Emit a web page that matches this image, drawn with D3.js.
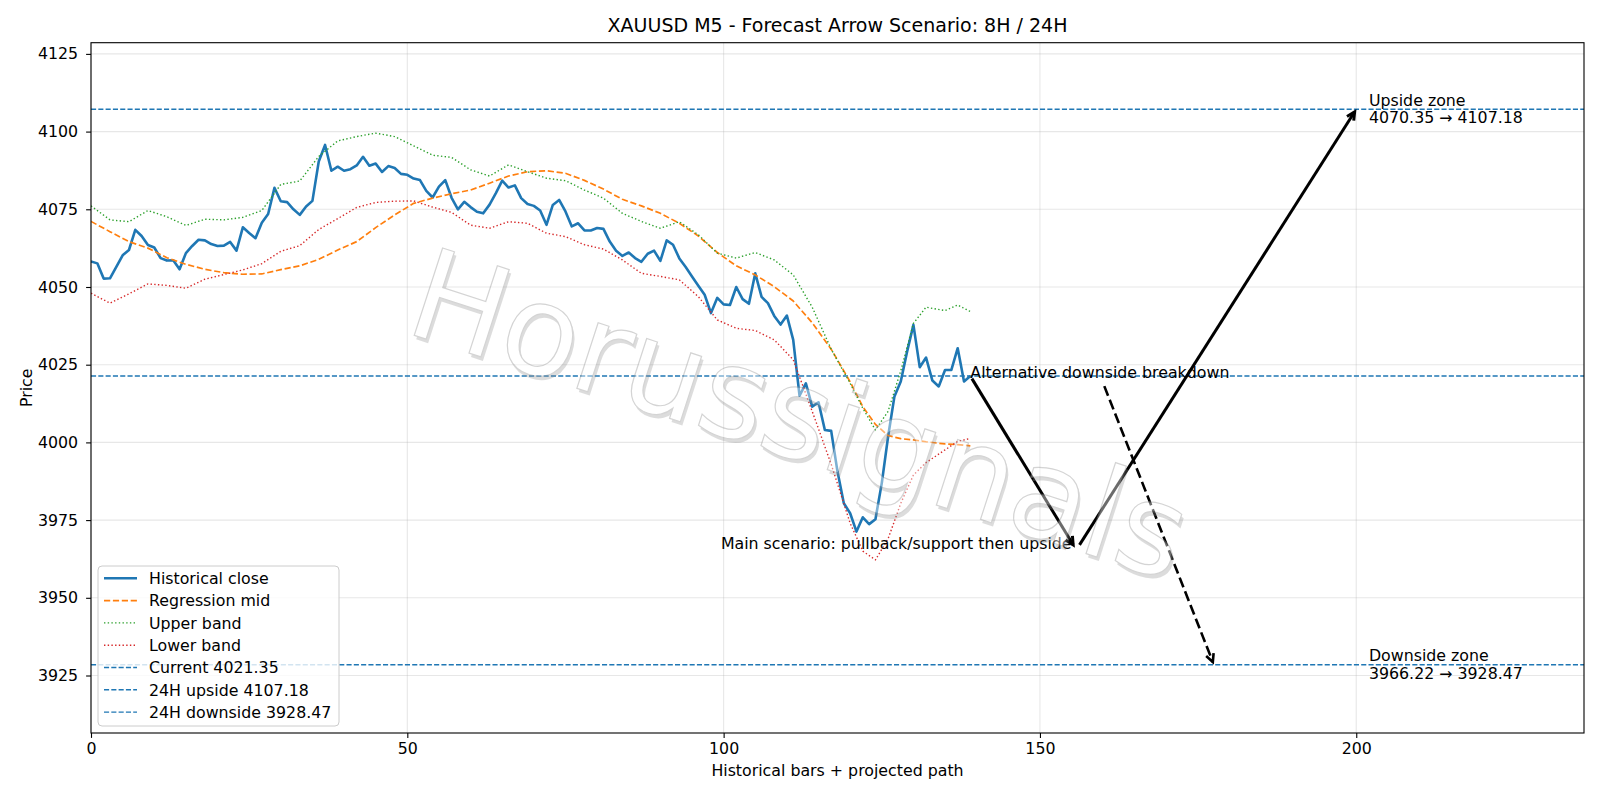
<!DOCTYPE html>
<html>
<head>
<meta charset="utf-8">
<script src="https://cdn.jsdelivr.net/npm/d3@7"></script>
<style>
  body { margin: 0; background: #fff; }
  text { font-family: "DejaVu Sans", sans-serif; fill: #000; }
</style>
</head>
<body>
<div id="chart"></div>
<script>
// historical close, one value per bar (index = bar number)
const closeVals = [
  4058.2, 4057.6, 4052.7, 4052.8, 4056.5, 4060.2, 4061.9, 4068.4, 4066.4, 4063.5,
  4062.7, 4059.3, 4058.5, 4058.6, 4055.7, 4060.9, 4063.2, 4065.2, 4065.0, 4063.8,
  4063.2, 4063.3, 4064.5, 4061.7, 4069.2, 4067.4, 4065.7, 4070.7, 4073.5, 4081.9,
  4077.6, 4077.3, 4075.0, 4073.2, 4075.9, 4077.7, 4090.4, 4095.7, 4087.4, 4088.7,
  4087.4, 4087.9, 4089.1, 4091.9, 4089.0, 4089.7, 4087.0, 4088.9, 4088.3, 4086.4,
  4086.1, 4084.9, 4084.4, 4080.9, 4078.8, 4082.3, 4084.4, 4078.7, 4075.0, 4077.4,
  4075.7, 4074.2, 4073.7, 4076.5, 4080.2, 4084.2, 4082.0, 4082.7, 4078.6, 4076.7,
  4076.1, 4074.6, 4070.0, 4076.4, 4078.0, 4074.3, 4069.5, 4070.5, 4068.2, 4068.2,
  4069.0, 4068.7, 4064.6, 4061.7, 4060.0, 4061.1, 4059.3, 4058.1, 4060.7, 4061.7,
  4058.4, 4065.0, 4063.6, 4059.2, 4056.4, 4053.4, 4050.4, 4047.5, 4041.6, 4046.5,
  4044.4, 4044.2, 4050.0, 4046.1, 4044.6, 4054.4, 4046.8, 4044.8, 4040.7, 4037.9,
  4040.8, 4033.0, 4015.0, 4019.0, 4011.5, 4012.9, 4004.0, 4003.7, 3990.6, 3980.4,
  3977.2, 3971.3, 3975.9, 3973.7, 3975.3, 3986.9, 4001.9, 4014.8, 4019.6, 4029.2,
  4037.8, 4024.2, 4027.3, 4019.9, 4018.0, 4023.3, 4023.3, 4030.3, 4019.6, 4021.35
];

// bars at which the smooth curves were read
const bandIdx = [0, 3, 6, 9, 12, 15, 18, 21, 24, 27, 30, 33, 36, 39, 42, 45, 48, 51, 54, 57,
  60, 63, 66, 69, 72, 75, 78, 81, 84, 87, 90, 93, 96, 99, 102, 105, 108, 111, 114, 117,
  120, 122, 124, 126, 128, 130, 132, 135, 137, 139];

const midVals = [4071.1, 4067.8, 4064.6, 4062.5, 4059.4, 4057.3, 4055.7, 4054.6, 4054.1, 4054.2,
  4055.6, 4056.8, 4058.9, 4061.9, 4064.6, 4069.1, 4073.2, 4076.9, 4078.6, 4080.0,
  4081.2, 4083.4, 4085.7, 4087.1, 4087.4, 4086.6, 4084.3, 4081.5, 4078.2, 4076.1,
  4073.7, 4070.5, 4066.4, 4061.1, 4056.8, 4053.9, 4050.1, 4045.5, 4038.5, 4030.0,
  4019.5, 4011.5, 4005.8, 4002.2, 4001.2, 4000.8, 4000.2, 3999.5, 3999.3, 3998.9];

const upperVals = [4076.1, 4071.6, 4071.0, 4074.6, 4072.6, 4069.8, 4071.8, 4071.6, 4072.4, 4074.6,
  4083.0, 4084.1, 4092.0, 4097.0, 4098.4, 4099.5, 4098.4, 4095.4, 4092.4, 4091.7,
  4087.7, 4085.7, 4089.3, 4087.1, 4085.0, 4084.2, 4081.2, 4078.6, 4073.7, 4071.1,
  4068.9, 4071.0, 4066.8, 4060.9, 4059.3, 4061.1, 4058.7, 4053.9, 4043.5, 4030.0,
  4019.0, 4011.0, 4004.0, 4010.0, 4023.0, 4038.3, 4043.5, 4042.4, 4044.2, 4042.1];

const lowerVals = [4048.0, 4044.8, 4047.8, 4051.0, 4050.5, 4049.6, 4052.5, 4054.0, 4055.5, 4057.5,
  4061.5, 4063.3, 4068.5, 4072.0, 4075.6, 4077.2, 4077.6, 4077.7, 4075.7, 4074.0,
  4069.9, 4068.9, 4071.0, 4070.5, 4067.3, 4066.2, 4063.6, 4062.2, 4058.7, 4054.4,
  4053.4, 4052.3, 4046.9, 4039.4, 4036.7, 4036.0, 4033.0, 4026.6, 4010.0, 3993.0,
  3974.0, 3965.0, 3962.2, 3969.0, 3980.4, 3989.5, 3993.5, 3997.6, 4000.3, 4001.3];

// key levels
const current = 4021.35;
const upside = 4107.18;
const downside = 3928.47;
const upsideFrom = 4070.35;
const downsideFrom = 3966.22;

const xTicks = [0, 50, 100, 150, 200];
const yTicks = [3925, 3950, 3975, 4000, 4025, 4050, 4075, 4100, 4125];

// scenario arrows in data units [bar, price]
const arrows = [
  { from: [139, current], to: [155.5, downsideFrom], dashed: false },
  { from: [156, downsideFrom], to: [200, upside], dashed: false },
  { from: [160, 4019], to: [177.5, downside], dashed: true }
];

const width = 1600;
const height = 800;
const margin = { top: 42.7, right: 16, bottom: 67, left: 91 };
const fs = 15.8; // base font size

const svg = d3.select('#chart')
  .append('svg')
  .attr('width', width)
  .attr('height', height);

const x = d3.scaleLinear().domain([0, 236]).range([margin.left, width - margin.right]);
const y = d3.scaleLinear().domain([3906.5, 4128.6]).range([height - margin.bottom, margin.top]);

const x0 = x.range()[0], x1 = x.range()[1];
const yb = y.range()[0], yt = y.range()[1];

svg.append('defs').append('clipPath').attr('id', 'plot')
  .append('rect')
  .attr('x', x0).attr('y', yt)
  .attr('width', x1 - x0).attr('height', yb - yt);

// grid
const grid = svg.append('g').attr('stroke', '#b0b0b0').attr('stroke-opacity', 0.3).attr('stroke-width', 1.1);
grid.selectAll('.gx').data(xTicks).enter().append('line')
  .attr('x1', d => x(d)).attr('x2', d => x(d)).attr('y1', yt).attr('y2', yb);
grid.selectAll('.gy').data(yTicks).enter().append('line')
  .attr('x1', x0).attr('x2', x1).attr('y1', d => y(d)).attr('y2', d => y(d));

const plot = svg.append('g').attr('clip-path', 'url(#plot)');

const line = d3.line().x(d => x(d[0])).y(d => y(d[1]));
const closeData = closeVals.map((v, i) => [i, v]);
const midData = bandIdx.map((b, i) => [b, midVals[i]]);
const upperData = bandIdx.map((b, i) => [b, upperVals[i]]);
const lowerData = bandIdx.map((b, i) => [b, lowerVals[i]]);

// horizontal levels
plot.selectAll('.level')
  .data([current, upside, downside])
  .enter().append('line')
  .attr('x1', x0).attr('x2', x1)
  .attr('y1', d => y(d)).attr('y2', d => y(d))
  .attr('stroke', '#1f77b4').attr('stroke-width', 1.39)
  .attr('stroke-dasharray', '5.1,2.2');

plot.append('path').datum(closeData)
  .attr('d', line).attr('fill', 'none')
  .attr('stroke', '#1f77b4').attr('stroke-width', 2.6).attr('stroke-linejoin', 'round');

plot.append('path').datum(midData)
  .attr('d', line).attr('fill', 'none')
  .attr('stroke', '#ff7f0e').attr('stroke-width', 1.67)
  .attr('stroke-dasharray', '6.2,2.7');

plot.append('path').datum(upperData)
  .attr('d', line).attr('fill', 'none')
  .attr('stroke', '#2ca02c').attr('stroke-width', 1.39)
  .attr('stroke-dasharray', '1.4,2.3');

plot.append('path').datum(lowerData)
  .attr('d', line).attr('fill', 'none')
  .attr('stroke', '#d62728').attr('stroke-width', 1.39)
  .attr('stroke-dasharray', '1.4,2.3');

// arrows
const arrowG = svg.append('g');
arrows.forEach(a => {
  const px0 = x(a.from[0]), py0 = y(a.from[1]);
  const px1 = x(a.to[0]), py1 = y(a.to[1]);
  const len = Math.hypot(px1 - px0, py1 - py0);
  const ux = (px1 - px0) / len, uy = (py1 - py0) / len;
  const sx = px0 + ux * 3, sy = py0 + uy * 3;
  const ex = px1 - ux * 3, ey = py1 - uy * 3;
  const lw = a.dashed ? 2.6 : 3;
  arrowG.append('line')
    .attr('x1', sx).attr('y1', sy).attr('x2', ex).attr('y2', ey)
    .attr('stroke', '#000').attr('stroke-width', lw)
    .attr('stroke-dasharray', a.dashed ? '10.3,4.4' : null);
  const hl = 8, hw = 4;
  const bx = ex - ux * hl, by = ey - uy * hl;
  arrowG.append('path')
    .attr('d', `M${bx - uy * hw},${by + ux * hw}L${ex},${ey}L${bx + uy * hw},${by - ux * hw}`)
    .attr('fill', 'none').attr('stroke', '#000').attr('stroke-width', lw)
    .attr('stroke-linejoin', 'miter');
});

// annotation texts
svg.append('text')
  .attr('x', x(139)).attr('y', y(current) + 1.5)
  .attr('font-size', fs)
  .text('Alternative downside breakdown');

svg.append('text')
  .attr('x', x(155)).attr('y', y(downsideFrom) + 2)
  .attr('text-anchor', 'end')
  .attr('font-size', fs)
  .text('Main scenario: pullback/support then upside');

const zones = [
  { level: upside, lines: ['Upside zone', `${upsideFrom} \u2192 ${upside}`] },
  { level: downside, lines: ['Downside zone', `${downsideFrom} \u2192 ${downside}`] }
];
zones.forEach(z => {
  const t = svg.append('text').attr('font-size', fs);
  t.append('tspan').attr('x', x(202)).attr('y', y(z.level) - 3.5).text(z.lines[0]);
  t.append('tspan').attr('x', x(202)).attr('y', y(z.level) + 14).text(z.lines[1]);
});

// watermark
const wm = svg.append('g')
  .attr('transform', `translate(${width / 2},${415}) rotate(18)`)
  .attr('opacity', 0.42);
wm.append('text')
  .attr('x', 3).attr('y', 3)
  .attr('text-anchor', 'middle').attr('dominant-baseline', 'central')
  .attr('font-size', 126)
  .style('fill', '#8a8a8a').attr('fill-opacity', 0.7)
  .text('Horussignals');
wm.append('text')
  .attr('text-anchor', 'middle').attr('dominant-baseline', 'central')
  .attr('font-size', 126)
  .style('fill', '#ffffff')
  .attr('stroke', '#9a9a9a').attr('stroke-width', 1.2)
  .text('Horussignals');

// axes
const xAxis = d3.axisBottom(x).tickValues(xTicks).tickSize(4.9).tickPadding(5).tickFormat(d3.format('d'));
const yAxis = d3.axisLeft(y).tickValues(yTicks).tickSize(4.9).tickPadding(8).tickFormat(d3.format('d'));

const gx = svg.append('g').attr('transform', `translate(0,${yb})`).call(xAxis);
const gy = svg.append('g').attr('transform', `translate(${x0},0)`).call(yAxis);
[gx, gy].forEach(g => {
  g.select('.domain').remove();
  g.selectAll('line').attr('stroke', '#000').attr('stroke-width', 1.1);
  g.selectAll('text').attr('font-size', fs).attr('font-family', 'DejaVu Sans').style('fill', '#000');
});

// frame
svg.append('rect')
  .attr('x', x0).attr('y', yt).attr('width', x1 - x0).attr('height', yb - yt)
  .attr('fill', 'none').attr('stroke', '#000').attr('stroke-width', 1.1);

// labels
svg.append('text')
  .attr('x', (x0 + x1) / 2).attr('y', 32)
  .attr('text-anchor', 'middle').attr('font-size', 19)
  .text('XAUUSD M5 - Forecast Arrow Scenario: 8H / 24H');

svg.append('text')
  .attr('x', (x0 + x1) / 2).attr('y', 776)
  .attr('text-anchor', 'middle').attr('font-size', fs)
  .text('Historical bars + projected path');

svg.append('text')
  .attr('transform', `translate(32,${(yt + yb) / 2}) rotate(-90)`)
  .attr('text-anchor', 'middle').attr('font-size', fs)
  .text('Price');

// legend
const legendItems = [
  { label: 'Historical close', color: '#1f77b4', w: 2.6, dash: null },
  { label: 'Regression mid', color: '#ff7f0e', w: 1.67, dash: '6.2,2.7' },
  { label: 'Upper band', color: '#2ca02c', w: 1.39, dash: '1.4,2.3' },
  { label: 'Lower band', color: '#d62728', w: 1.39, dash: '1.4,2.3' },
  { label: `Current ${current}`, color: '#1f77b4', w: 1.39, dash: '5.1,2.2' },
  { label: `24H upside ${upside}`, color: '#1f77b4', w: 1.39, dash: '5.1,2.2' },
  { label: `24H downside ${downside}`, color: '#1f77b4', w: 1.39, dash: '5.1,2.2' }
];
const rowH = 22.3;
const legH = 160;
const legend = svg.append('g').attr('transform', `translate(${x0 + 7},${yb - 7 - legH})`);
legend.append('rect')
  .attr('width', 241).attr('height', legH).attr('rx', 4)
  .attr('fill', '#fff').attr('fill-opacity', 0.8)
  .attr('stroke', '#cccccc').attr('stroke-width', 1);
const rows = legend.selectAll('.row').data(legendItems).enter().append('g')
  .attr('transform', (d, i) => `translate(0,${12.3 + i * rowH})`);
rows.append('line')
  .attr('x1', 6).attr('x2', 39)
  .attr('stroke', d => d.color).attr('stroke-width', d => d.w)
  .attr('stroke-dasharray', d => d.dash);
rows.append('text')
  .attr('x', 51).attr('y', 5.7)
  .attr('font-size', fs)
  .text(d => d.label);
</script>
</body>
</html>
